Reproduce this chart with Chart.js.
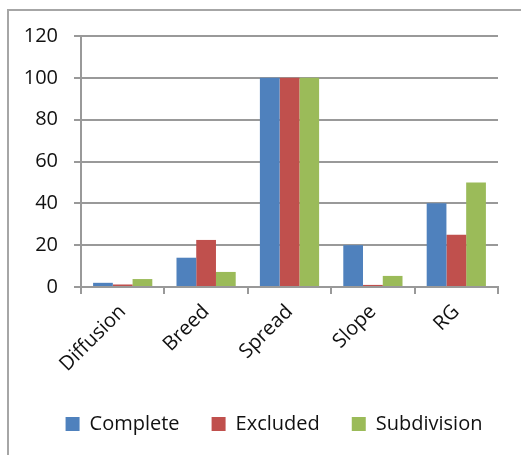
<!DOCTYPE html>
<html>
<head>
<meta charset="utf-8">
<script src="https://cdn.jsdelivr.net/npm/chart.js@4.4.0/dist/chart.umd.min.js"></script>
<style>
  html, body { margin: 0; padding: 0; background: #fff; }
  #wrap { position: relative; width: 521px; height: 455px; overflow: hidden; }
  #frame {
    position: absolute; left: 7px; top: 9px; width: 600px; height: 500px;
    border-left: 2px solid #a6a6a6; border-top: 2px solid #a6a6a6;
  }
  #chart { position: absolute; left: 0; top: 0; }
</style>
</head>
<body>
<div id="wrap">
  <div id="frame"></div>
  <canvas id="chart" width="521" height="455"></canvas>
</div>
<script>
// Categories and series
const categories = ['Diffusion', 'Breed', 'Spread', 'Slope', 'RG'];
const complete = [2, 14, 100, 20, 40];
const excluded = [1.2, 22.5, 100, 1, 25];
const subdivision = [3.8, 7.2, 100, 5.3, 50];
const yTicks = [0, 20, 40, 60, 80, 100, 120];

const axisGray = '#999999';
const textFont = { family: "'Open Sans', sans-serif", size: 20 };

// nudge the legend row to the right so it sits under the whole frame
const legendShift = {
  id: 'legendShift',
  afterLayout(chart) {
    const lg = chart.legend;
    if (lg) { lg.left += 25; lg.right += 25; }
  }
};

const ctx = document.getElementById('chart').getContext('2d');

new Chart(ctx, {
  type: 'bar',
  data: {
    labels: categories,
    datasets: [
      { label: 'Complete', data: complete, backgroundColor: '#4f81bd' },
      { label: 'Excluded', data: excluded, backgroundColor: '#c0504d' },
      { label: 'Subdivision', data: subdivision, backgroundColor: '#9bbb59' }
    ]
  },
  plugins: [legendShift],
  options: {
    responsive: false,
    animation: false,
    layout: { padding: { left: 0, right: 23, top: 36, bottom: 11 } },
    datasets: {
      bar: { barPercentage: 1.0, categoryPercentage: 0.71 }
    },
    plugins: {
      tooltip: { enabled: false },
      legend: {
        position: 'bottom',
        labels: {
          color: '#111',
          font: textFont,
          boxWidth: 14,
          boxHeight: 14,
          padding: 32
        }
      }
    },
    scales: {
      x: {
        grid: {
          drawOnChartArea: false,
          drawTicks: true,
          tickLength: 7,
          color: axisGray,
          lineWidth: 2
        },
        border: { color: axisGray, width: 2 },
        ticks: {
          color: '#111',
          font: textFont,
          minRotation: 45,
          maxRotation: 45,
          padding: 6
        },
        afterFit: (scale) => { scale.height = 95; }
      },
      y: {
        min: 0,
        max: 120,
        afterBuildTicks: (scale) => {
          scale.ticks = yTicks.map(v => ({ value: v }));
        },
        grid: {
          color: axisGray,
          lineWidth: 2,
          tickLength: 7
        },
        border: { color: axisGray, width: 2 },
        ticks: {
          color: '#111',
          font: textFont,
          padding: 16
        },
        afterFit: (scale) => { scale.width = 81; }
      }
    }
  }
});
</script>
</body>
</html>
